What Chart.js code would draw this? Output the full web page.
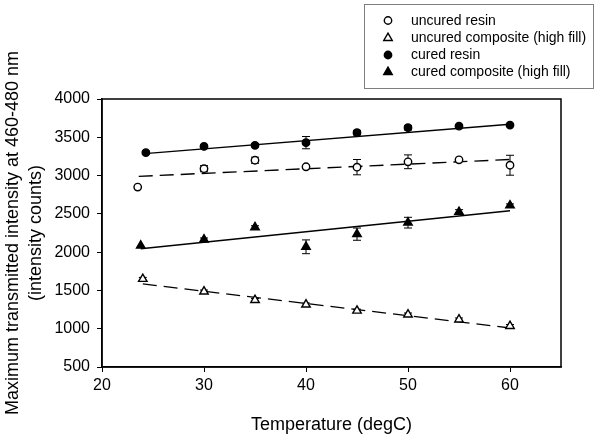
<!DOCTYPE html>
<html><head><meta charset="utf-8">
<script src="https://cdn.jsdelivr.net/npm/chart.js@4"></script>
<style>html,body{margin:0;padding:0;background:#fff}</style>
</head><body>
<canvas id="c" width="600" height="440"></canvas>
<script>
const seriesNames = ['uncured resin', 'uncured composite (high fill)', 'cured resin', 'cured composite (high fill)'];

const uncuredResinX   = [23.5, 30, 35, 40, 45, 50, 55, 60];
const uncuredResinY   = [2850, 3090, 3200, 3115, 3110, 3180, 3205, 3135];
const uncuredResinErr = [0, 40, 40, 20, 100, 90, 20, 130];

const uncuredCompX   = [24, 30, 35, 40, 45, 50, 55, 60];
const uncuredCompY   = [1650, 1485, 1375, 1315, 1235, 1185, 1120, 1035];
const uncuredCompErr = [20, 20, 20, 20, 20, 20, 20, 20];

const curedResinX   = [24.3, 30, 35, 40, 45, 50, 55, 60];
const curedResinY   = [3300, 3380, 3395, 3430, 3560, 3625, 3645, 3660];
const curedResinErr = [20, 20, 20, 80, 30, 30, 20, 20];

const curedCompX   = [23.8, 30, 35, 40, 45, 50, 55, 60];
const curedCompY   = [2085, 2165, 2325, 2070, 2235, 2385, 2525, 2610];
const curedCompErr = [0, 20, 20, 90, 80, 70, 30, 20];

// fitted trend-line end points
const fitUncuredResinX = [23.6, 60], fitUncuredResinY = [2990, 3210];
const fitUncuredCompX  = [24, 60],   fitUncuredCompY  = [1585, 1010];
const fitCuredResinX   = [24.5, 60], fitCuredResinY   = [3290, 3670];
const fitCuredCompX    = [23.8, 60], fitCuredCompY    = [2045, 2540];

const xTicks = [20, 30, 40, 50, 60];
const yTicks = [500, 1000, 1500, 2000, 2500, 3000, 3500, 4000];

const pts = (xs, ys) => xs.map((x, i) => ({x: x, y: ys[i]}));
const FONT = "'Liberation Sans', Arial, sans-serif";

const markerDefs = [
  {style: 'circle', r: 3.7, fill: '#fff'},
  {style: 'triangle', r: 4.9, fill: '#fff'},
  {style: 'circle', r: 3.7, fill: '#000'},
  {style: 'triangle', r: 4.9, fill: '#000'}
];

function pointDs(label, xs, ys, errs, m) {
  return {type: 'scatter', label: label, data: pts(xs, ys), errors: errs, showLine: false,
    pointStyle: m.style, pointRadius: m.r, pointBackgroundColor: m.fill,
    pointBorderColor: '#000', pointBorderWidth: 1.4, order: 0};
}
function fitDs(xs, ys, dashed) {
  return {type: 'scatter', label: '', data: pts(xs, ys), showLine: true, pointRadius: 0,
    borderColor: '#000', borderWidth: 1.4, borderDash: dashed ? [14, 7] : [], fill: false, order: 5};
}

const errorBars = {
  id: 'errorBars',
  beforeDatasetsDraw(chart) {
    const ctx = chart.ctx, ys = chart.scales.y, xs = chart.scales.x;
    ctx.save();
    ctx.strokeStyle = '#000';
    ctx.lineWidth = 1;
    chart.data.datasets.forEach(ds => {
      if (!ds.errors) return;
      ds.data.forEach((p, i) => {
        const e = ds.errors[i];
        if (!e) return;
        const px = xs.getPixelForValue(p.x);
        const top = ys.getPixelForValue(p.y + e), bot = ys.getPixelForValue(p.y - e);
        ctx.beginPath();
        ctx.moveTo(px, top); ctx.lineTo(px, bot);
        ctx.moveTo(px - 4, top); ctx.lineTo(px + 4, top);
        ctx.moveTo(px - 4, bot); ctx.lineTo(px + 4, bot);
        ctx.stroke();
      });
    });
    ctx.restore();
  }
};

function drawMarker(ctx, m, x, y) {
  ctx.beginPath();
  if (m.style === 'circle') {
    ctx.arc(x, y, m.r, 0, Math.PI * 2);
  } else {
    let rad = 0;
    ctx.moveTo(x + Math.sin(rad) * m.r, y - Math.cos(rad) * m.r);
    rad += Math.PI * 2 / 3;
    ctx.lineTo(x + Math.sin(rad) * m.r, y - Math.cos(rad) * m.r);
    rad += Math.PI * 2 / 3;
    ctx.lineTo(x + Math.sin(rad) * m.r, y - Math.cos(rad) * m.r);
    ctx.closePath();
  }
  ctx.fillStyle = m.fill; ctx.fill();
  ctx.lineWidth = 1.4; ctx.strokeStyle = '#000'; ctx.stroke();
}

const frameAndLegend = {
  id: 'frameAndLegend',
  afterDraw(chart) {
    const ctx = chart.ctx, a = chart.chartArea;
    ctx.save();
    ctx.strokeStyle = '#000'; ctx.lineWidth = 1.5;
    ctx.strokeRect(a.left, a.top, a.right - a.left, a.bottom - a.top);
    ctx.strokeStyle = '#7f7f7f'; ctx.lineWidth = 1;
    ctx.strokeRect(364.5, 4.5, 229, 84);
    ctx.font = '14px ' + FONT;
    ctx.textBaseline = 'middle';
    const rows = [20.5, 38, 55, 72];
    seriesNames.forEach((name, i) => {
      drawMarker(ctx, markerDefs[i], 388, rows[i]);
      ctx.fillStyle = '#000';
      ctx.fillText(name, 411, rows[i] + 0.5);
    });
    ctx.restore();
  }
};

new Chart(document.getElementById('c'), {
  type: 'scatter',
  data: {
    datasets: [
      pointDs(seriesNames[0], uncuredResinX, uncuredResinY, uncuredResinErr, markerDefs[0]),
      pointDs(seriesNames[1], uncuredCompX, uncuredCompY, uncuredCompErr, markerDefs[1]),
      pointDs(seriesNames[2], curedResinX, curedResinY, curedResinErr, markerDefs[2]),
      pointDs(seriesNames[3], curedCompX, curedCompY, curedCompErr, markerDefs[3]),
      fitDs(fitUncuredResinX, fitUncuredResinY, true),
      fitDs(fitUncuredCompX, fitUncuredCompY, true),
      fitDs(fitCuredResinX, fitCuredResinY, false),
      fitDs(fitCuredCompX, fitCuredCompY, false)
    ]
  },
  options: {
    responsive: false,
    animation: false,
    layout: {padding: {top: 99, right: 39, left: 0, bottom: 0}},
    plugins: {legend: {display: false}, tooltip: {enabled: false}},
    scales: {
      x: {
        type: 'linear', min: 20, max: 65,
        afterBuildTicks: s => { s.ticks = xTicks.map(v => ({value: v})); },
        afterFit: s => { s.height = 73; },
        grid: {display: true, drawOnChartArea: false, drawTicks: true, tickLength: 5, color: '#000', lineWidth: 1},
        border: {display: true, color: '#000', width: 1.5},
        ticks: {color: '#000', font: {family: FONT, size: 16}, padding: 4, maxRotation: 0,
          callback: v => String(v)},
        title: {display: true, text: 'Temperature (degC)', color: '#000',
          font: {family: FONT, size: 18, lineHeight: 1.2}, padding: {top: 0, bottom: 4}}
      },
      y: {
        type: 'linear', min: 500, max: 4000,
        afterBuildTicks: s => { s.ticks = yTicks.map(v => ({value: v})); },
        afterFit: s => { s.width = 102; },
        grid: {display: true, drawOnChartArea: false, drawTicks: true, tickLength: 5, color: '#000', lineWidth: 1},
        border: {display: true, color: '#000', width: 1.5},
        ticks: {color: '#000', font: {family: FONT, size: 16}, padding: 7,
          callback: v => String(v)},
        title: {display: true, text: ['Maximum transmitted intensity at 460-480 nm', '(intensity counts)'], color: '#000',
          font: {family: FONT, size: 18, lineHeight: 1.25}, padding: {top: 2, bottom: 0}}
      }
    }
  },
  plugins: [errorBars, frameAndLegend]
});
</script>
</body></html>
